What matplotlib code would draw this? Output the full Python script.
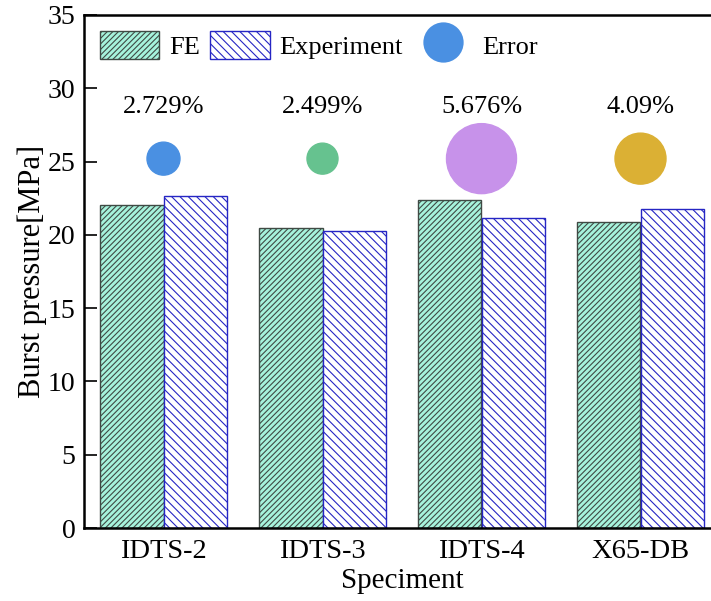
import matplotlib.pyplot as plt
import numpy as np
from matplotlib.lines import Line2D
from matplotlib.patches import Patch

plt.rcParams['font.family'] = ['Liberation Serif', 'DejaVu Serif']
plt.rcParams['hatch.linewidth'] = 0.8

# ================= data =================
specimens = ['IDTS-2', 'IDTS-3', 'IDTS-4', 'X65-DB']
fe_vals = [22.05, 20.46, 22.37, 20.87]
exp_vals = [22.65, 20.28, 21.15, 21.78]
err_labels = ['2.729%', '2.499%', '5.676%', '4.09%']
err_y = [25.2, 25.2, 25.2, 25.2]
label_y = [28.7, 28.7, 28.7, 28.7]
err_diam_px = [33, 31, 70, 51]
err_colors = ['#4a90e2', '#66c28f', '#c792ea', '#dbb034']
# ========================================

FE_FACE = '#a6f3dc'
FE_EDGE = '#3f4a44'
EXP_EDGE = '#2626c4'

fig = plt.figure(figsize=(7.11, 6.01), dpi=100)
ax = fig.add_axes([84 / 711, 73 / 601, 636 / 711, 513 / 601])

x = np.arange(len(specimens))
w = 0.4
ax.bar(x - w / 2, fe_vals, w, color=FE_FACE, edgecolor=FE_EDGE,
       hatch='//////', linewidth=1.0)
ax.bar(x + w / 2, exp_vals, w, color='white', edgecolor=EXP_EDGE,
       hatch='\\\\\\\\', linewidth=1.0)

sizes = [(d * 0.72) ** 2 for d in err_diam_px]
ax.scatter(x, err_y, s=sizes, c=err_colors, zorder=3)
for xi, yi, t in zip(x, label_y, err_labels):
    ax.text(xi, yi, t, ha='center', va='center', fontsize=19)

ax.set_xlim(-0.5, 3.5)
ax.set_ylim(0, 35)
ax.set_yticks(range(0, 36, 5))
ax.set_xticks(x)
ax.set_xticklabels(specimens)
ax.tick_params(axis='y', direction='in', length=9, width=1.2, labelsize=20, pad=6)
ax.tick_params(axis='x', length=0, labelsize=20.5, pad=8)
for s in ax.spines.values():
    s.set_linewidth(1.8)
ax.set_xlabel('Speciment', fontsize=21, labelpad=3)
ax.set_ylabel('Burst pressure[MPa]', fontsize=22, labelpad=1)

handles = [
    Patch(facecolor=FE_FACE, edgecolor=FE_EDGE, hatch='//////'),
    Patch(facecolor='white', edgecolor=EXP_EDGE, hatch='\\\\\\\\'),
    Line2D([], [], marker='o', linestyle='', markersize=29,
           markerfacecolor='#4a90e2', markeredgecolor='none'),
]
ax.legend(handles, ['FE', 'Experiment', 'Error'], loc='upper left',
          ncol=3, frameon=False, fontsize=19, handlelength=2.24,
          handleheight=1.25, columnspacing=0.4, handletextpad=0.38,
          borderaxespad=0.2, bbox_to_anchor=(0.0, 1.0))

fig.savefig('out.png', dpi=100)
